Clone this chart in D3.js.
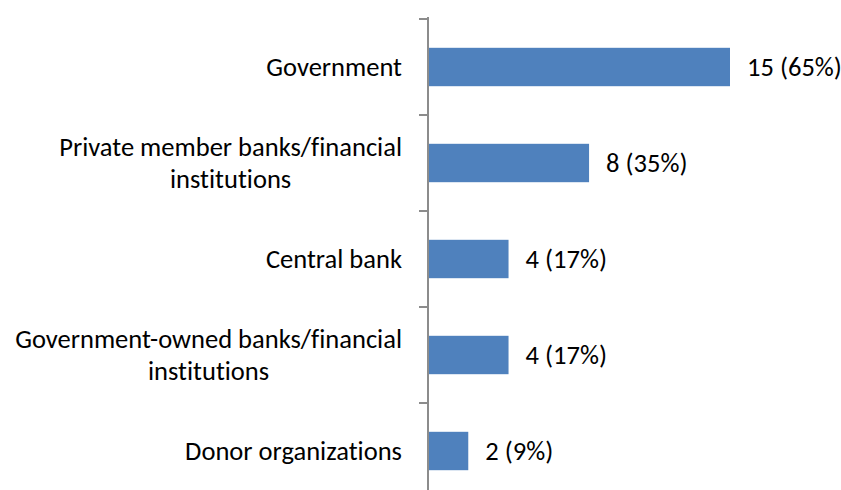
<!DOCTYPE html>
<html>
<head>
<meta charset="utf-8">
<script src="https://cdn.jsdelivr.net/npm/d3@7"></script>
<style>
  html, body { margin: 0; padding: 0; background: #fff; }
  svg { display: block; }
  text { font-family: Carlito, Lato, "Open Sans", sans-serif; fill: #000; font-variant-ligatures: none; font-feature-settings: "liga" 0, "clig" 0; }
</style>
</head>
<body>
<svg id="chart" width="841" height="490"></svg>
<script>
const categories = [
  ["Government"],
  ["Private member banks/financial", "institutions"],
  ["Central bank"],
  ["Government-owned banks/financial", "institutions"],
  ["Donor organizations"]
];
const counts = [15, 8, 4, 4, 2];
const percents = ["65%", "35%", "17%", "17%", "9%"];

const W = 841, H = 490;
const svg = d3.select("#chart");
const keys = categories.map(c => c.join(" "));

const x = d3.scaleLinear().domain([0, 15]).range([428, 730]);
const y = d3.scaleBand().domain(keys).range([19, 499]).paddingInner(0.6).paddingOuter(0.3);

// font size fit: reference line width
const probe = svg.append("text").attr("font-size", 24).text("Private member banks/financial");
const w24 = probe.node().getComputedTextLength();
probe.remove();
const fs = 24 * 343 / w24;

// bars
svg.selectAll("rect.bar").data(counts).enter().append("rect")
  .attr("class", "bar")
  .attr("x", x(0))
  .attr("y", (d, i) => y(keys[i]))
  .attr("width", d => x(d) - x(0))
  .attr("height", y.bandwidth())
  .attr("fill", "#4f81bd");

// axis
const axisG = svg.append("g").attr("transform", `translate(${x(0)},0)`);
const step = y.step();
const tickVals = d3.range(keys.length + 1).map(i => 19 + i * step);
axisG.append("line").attr("x1", 0).attr("x2", 0).attr("y1", 17).attr("y2", H)
  .attr("stroke", "#8c8c8c").attr("stroke-width", 2);
axisG.selectAll("line.tick").data(tickVals).enter().append("line")
  .attr("class", "tick").attr("x1", -9).attr("x2", 0)
  .attr("y1", d => d).attr("y2", d => d)
  .attr("stroke", "#8c8c8c").attr("stroke-width", 2);

// category labels
const lineH = 32;
const rightEdge = 402;
categories.forEach((lines, i) => {
  const cy = y(keys[i]) + y.bandwidth() / 2;
  const g = svg.append("g");
  const n = lines.length;
  const texts = lines.map((ln, j) => g.append("text")
    .attr("font-size", fs)
    .attr("text-anchor", "middle")
    .attr("y", cy + (j - (n - 1) / 2) * lineH + fs * 0.33)
    .text(ln));
  const maxW = d3.max(texts, t => t.node().getComputedTextLength());
  texts.forEach(t => t.attr("x", rightEdge - maxW / 2));
});

// value labels
svg.selectAll("text.val").data(counts).enter().append("text")
  .attr("class", "val")
  .attr("font-size", fs)
  .attr("x", d => x(d) + 17)
  .attr("y", (d, i) => y(keys[i]) + y.bandwidth() / 2 + fs * 0.33)
  .text((d, i) => `${d} (${percents[i]})`);
</script>
</body>
</html>
